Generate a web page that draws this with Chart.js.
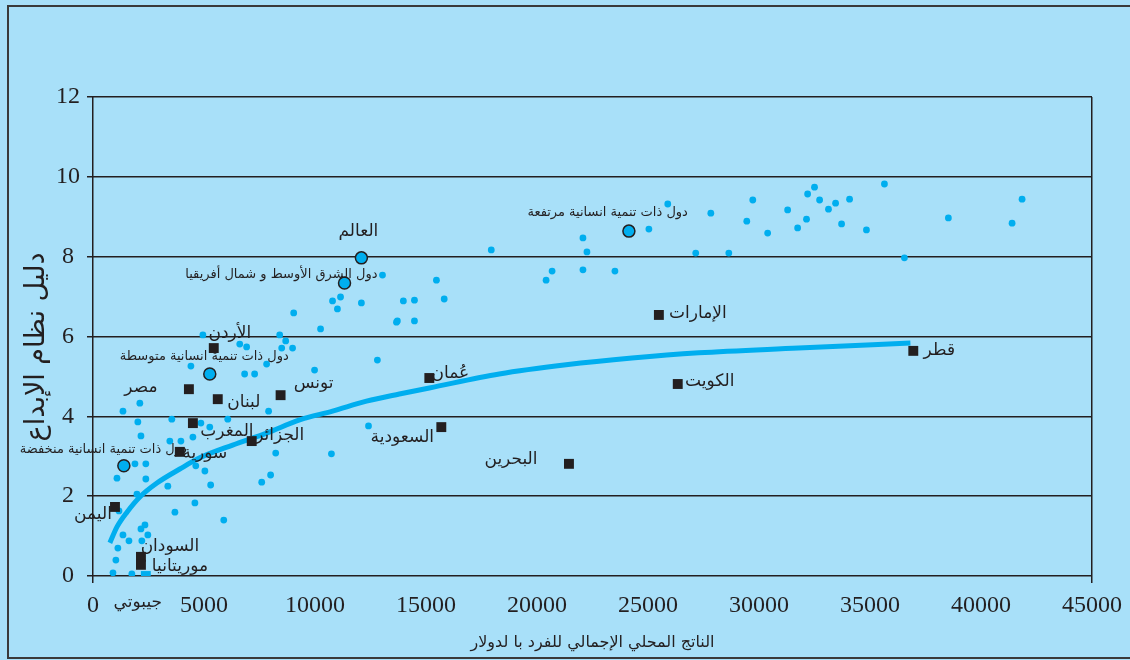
<!DOCTYPE html>
<html lang="ar">
<head>
    <meta charset="UTF-8">
    <title>دليل نظام الإبداع</title>
    <script src="https://cdn.jsdelivr.net/npm/chart.js"></script>
    <style>
        body { margin: 0; background: #a8e0f9; }
        #box { width: 1130px; height: 660px; }
    </style>
</head>
<body>
    <div id="box">
        <canvas id="grafico"></canvas>
    </div>

    <script>
        // other countries (blue dots)
        const dotX = [4950,6610,6920,8410,8680,8500,8990,10250,4410,7820,
                      6830,7280,9980,12810,1350,2110,7910,2020,3550,6070,
                      4860,5260,2160,4500,3460,3960,12410,8230,10740,1890,
                      2380,4630,5040,1080,2380,8000,7600,5300,3370,1980,
                      4590,3690,5890,1170,2340,2160,1350,2470,1620,2200,
                      1120,1030,900,1750,13040,10790,11150,11010,12090,9040,
                      13670,15470,13980,14480,15820,13710,14480,25890,25040,22070,
                      22250,17940,27150,20680,20410,22070,23510,27830,28640,29720,
                      29450,30390,31290,31740,32140,32190,32500,32730,33130,33450,
                      33720,34080,34840,35650,36550,38530,41400,41850]
        const dotY = [6.04,5.81,5.74,6.04,5.89,5.71,5.71,6.19,5.26,5.31,
                      5.06,5.06,5.16,5.41,4.13,4.33,4.13,3.86,3.93,3.93,
                      3.83,3.73,3.51,3.48,3.38,3.38,3.76,3.08,3.06,2.81,
                      2.81,2.76,2.63,2.45,2.43,2.53,2.35,2.28,2.25,2.05,
                      1.83,1.60,1.40,1.63,1.28,1.18,1.03,1.03,0.88,0.88,
                      0.70,0.40,0.08,0.05,7.54,6.89,6.99,6.69,6.84,6.59,
                      6.36,7.41,6.89,6.91,6.94,6.39,6.39,9.32,8.69,8.47,
                      8.12,8.17,8.09,7.64,7.41,7.67,7.64,9.09,8.09,9.42,
                      8.89,8.59,9.17,8.72,8.94,9.57,9.74,9.42,9.19,9.34,
                      8.82,9.44,8.67,9.82,7.97,8.97,8.84,9.44]

        // arab countries (black squares)
        const arabNames = ['الأردن','مصر','لبنان','تونس','المغرب','الجزائر','سورية','اليمن',
                           'السودان','موريتانيا','عُمان','السعودية','البحرين','الإمارات','الكويت','قطر']
        const arabX = [5440,4320,5620,8450,4500,7150,3910,990,2160,2160,15150,15690,21440,25490,26340,36950]
        const arabY = [5.71,4.68,4.43,4.53,3.83,3.38,3.11,1.73,0.48,0.28,4.96,3.73,2.81,6.54,4.81,5.64]

        const djiboutiName = ['جيبوتي']
        const djiboutiX = [2380]
        const djiboutiY = [0]

        // groups (circles)
        const groupNames = ['العالم','دول الشرق الأوسط و شمال أفريقيا','دول ذات تنمية انسانية متوسطة',
                            'دول ذات تنمية انسانية منخفضة','دول ذات تنمية انسانية مرتفعة']
        const groupX = [12090,11330,5260,1390,24140]
        const groupY = [7.97,7.34,5.06,2.76,8.64]

        // trend curve
        const curveX = [760,1080,1530,2110,2880,3910,4810,6290,7820,9310,10790,12320,13800,15150,18300,21310,24280,27290,31780,36820]
        const curveY = [0.83,1.23,1.60,1.98,2.33,2.68,2.96,3.28,3.58,3.91,4.13,4.38,4.56,4.71,5.06,5.29,5.46,5.59,5.71,5.84]

        const xTitle = 'الناتج المحلي الإجمالي للفرد با لدولار'
        const yTitle = 'دليل نظام الإبداع'

        const azul = '#00aeef'
        const preto = '#231f20'

        const pts = (xs, ys) => xs.map((x, i) => ({x: x, y: ys[i]}))

        // label placement in pixels relative to the mark
        const lugar = {
            'الأردن': [16,-14,'center'], 'مصر': [-48,-2,'center'], 'لبنان': [26,3,'center'],
            'تونس': [33,-12,'center'], 'المغرب': [34,8,'center'], 'الجزائر': [28,-6,'center'],
            'سورية': [25,2,'center'], 'اليمن': [-22,8,'center'], 'السودان': [29,-10,'center'],
            'موريتانيا': [39,2,'center'], 'عُمان': [21,-4,'center'], 'السعودية': [-39,10,'center'],
            'البحرين': [-58,-4,'center'], 'الإمارات': [39,-1,'center'], 'الكويت': [32,-2,'center'],
            'قطر': [26,0,'center'], 'جيبوتي': [-8,27,'center'], 'العالم': [-3,-26,'center'],
            'دول الشرق الأوسط و شمال أفريقيا': [33,-8,'right'],
            'دول ذات تنمية انسانية متوسطة': [79,-17,'right'],
            'دول ذات تنمية انسانية منخفضة': [63,-16,'right'],
            'دول ذات تنمية انسانية مرتفعة': [59,-18,'right']
        }

        const rotulos = {
            id: 'rotulos',
            beforeDraw(chart) {
                const c = chart.ctx
                c.save()
                c.strokeStyle = '#3a3a3a'
                c.lineWidth = 2
                c.strokeRect(8, 6, 1140, 652)
                // vertical axis title
                c.translate(37, 347)
                c.rotate(-Math.PI / 2)
                c.font = '27px "DejaVu Sans"'
                c.textAlign = 'center'
                c.textBaseline = 'middle'
                c.fillStyle = preto
                c.fillText(yTitle, 0, 0)
                c.restore()
            },
            afterDatasetsDraw(chart) {
                const c = chart.ctx
                const sx = chart.scales.x, sy = chart.scales.y
                const put = (names, xs, ys, size) => {
                    names.forEach((n, i) => {
                        const p = lugar[n]
                        if (!p) return
                        c.font = size + 'px "DejaVu Sans"'
                        c.textAlign = p[2]
                        c.textBaseline = 'middle'
                        c.fillStyle = preto
                        c.fillText(n, sx.getPixelForValue(xs[i]) + p[0], sy.getPixelForValue(ys[i]) + p[1])
                    })
                }
                c.save()
                put(arabNames, arabX, arabY, 17)
                put(djiboutiName, djiboutiX, djiboutiY, 17)
                put(groupNames.slice(0, 1), groupX, groupY, 17)
                put(groupNames.slice(1), groupX.slice(1), groupY.slice(1), 13)
                c.restore()
            }
        }

        const ctx = document.getElementById('grafico')
        const serif = {family: '"Liberation Serif", serif', size: 24}

        new Chart(ctx, {
            type: 'scatter',
            data: {
                datasets: [
                    {label: 'groups', data: pts(groupX, groupY), pointStyle: 'circle', pointRadius: 6,
                     backgroundColor: azul, borderColor: preto, borderWidth: 1.5},
                    {label: 'arab', data: pts(arabX, arabY), pointStyle: 'rect', pointRadius: 7,
                     backgroundColor: preto, borderWidth: 0},
                    {label: 'djibouti', data: pts(djiboutiX, djiboutiY), pointStyle: 'rect', pointRadius: 7,
                     backgroundColor: azul, borderWidth: 0},
                    {label: 'trend', type: 'line', data: pts(curveX, curveY), borderColor: azul, borderWidth: 5,
                     pointRadius: 0, fill: false, cubicInterpolationMode: 'monotone'},
                    {label: 'others', data: pts(dotX, dotY), pointRadius: 3.4, backgroundColor: azul, borderWidth: 0}
                ]
            },
            options: {
                responsive: true,
                maintainAspectRatio: false,
                animation: false,
                layout: {padding: {top: 97, right: 36, left: 0, bottom: 0}},
                plugins: {legend: {display: false}, tooltip: {enabled: false}},
                scales: {
                    x: {
                        type: 'linear', min: 0, max: 45000,
                        afterFit: s => { s.height = 84 },
                        border: {display: false},
                        grid: {
                            color: g => (g.tick && (g.tick.value === 0 || g.tick.value === 45000)) ? preto : 'rgba(0,0,0,0)',
                            lineWidth: 1.5, tickLength: 7
                        },
                        ticks: {stepSize: 5000, autoSkip: false, maxRotation: 0, color: preto, font: serif, padding: 8,
                                callback: v => String(v)},
                        title: {display: true, text: xTitle, color: preto,
                                font: {family: '"DejaVu Sans"', size: 16}, padding: {top: 0, bottom: 8}}
                    },
                    y: {
                        min: 0, max: 12,
                        afterFit: s => { s.width = 93 },
                        border: {display: false},
                        grid: {color: preto, lineWidth: 1.5, tickLength: 6},
                        ticks: {stepSize: 2, color: preto, font: serif, padding: 7, crossAlign: 'center',
                                callback: v => String(v)}
                    }
                }
            },
            plugins: [rotulos]
        })
    </script>
</body>
</html>
